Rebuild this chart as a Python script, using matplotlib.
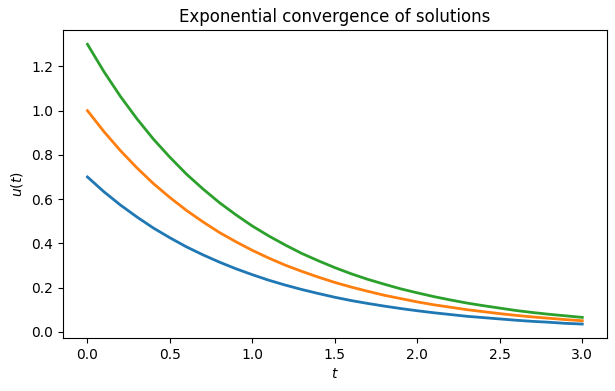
import numpy as np
import matplotlib
matplotlib.use("Agg")
import matplotlib.pyplot as plt

# values, t in steps of 0.1
t = np.round(np.arange(0, 3.01, 0.1), 2)

u_low = [0.700, 0.633, 0.573, 0.519, 0.469, 0.425, 0.384, 0.348, 0.315, 0.285,
         0.258, 0.233, 0.211, 0.191, 0.173, 0.156, 0.141, 0.128, 0.116, 0.105,
         0.095, 0.086, 0.078, 0.070, 0.064, 0.058, 0.052, 0.047, 0.043, 0.038, 0.035]
u_mid = [1.000, 0.905, 0.819, 0.741, 0.670, 0.607, 0.549, 0.497, 0.449, 0.407,
         0.368, 0.333, 0.301, 0.273, 0.247, 0.223, 0.202, 0.183, 0.165, 0.150,
         0.135, 0.122, 0.111, 0.100, 0.091, 0.082, 0.074, 0.067, 0.061, 0.055, 0.050]
u_high = [1.300, 1.176, 1.064, 0.963, 0.871, 0.789, 0.713, 0.646, 0.584, 0.529,
          0.478, 0.433, 0.392, 0.354, 0.321, 0.290, 0.262, 0.237, 0.215, 0.194,
          0.176, 0.159, 0.144, 0.130, 0.118, 0.107, 0.096, 0.087, 0.079, 0.072, 0.065]

fig, ax = plt.subplots(figsize=(6.15, 3.91), dpi=100)
fig.subplots_adjust(left=0.102, right=0.987, top=0.9225, bottom=0.1355)

for u in [u_low, u_mid, u_high]:
    ax.plot(t, u, lw=2)

ax.set_title("Exponential convergence of solutions")
ax.set_xlabel("$t$")
ax.set_ylabel("$u(t)$")

fig.savefig("out.png", dpi=100)
